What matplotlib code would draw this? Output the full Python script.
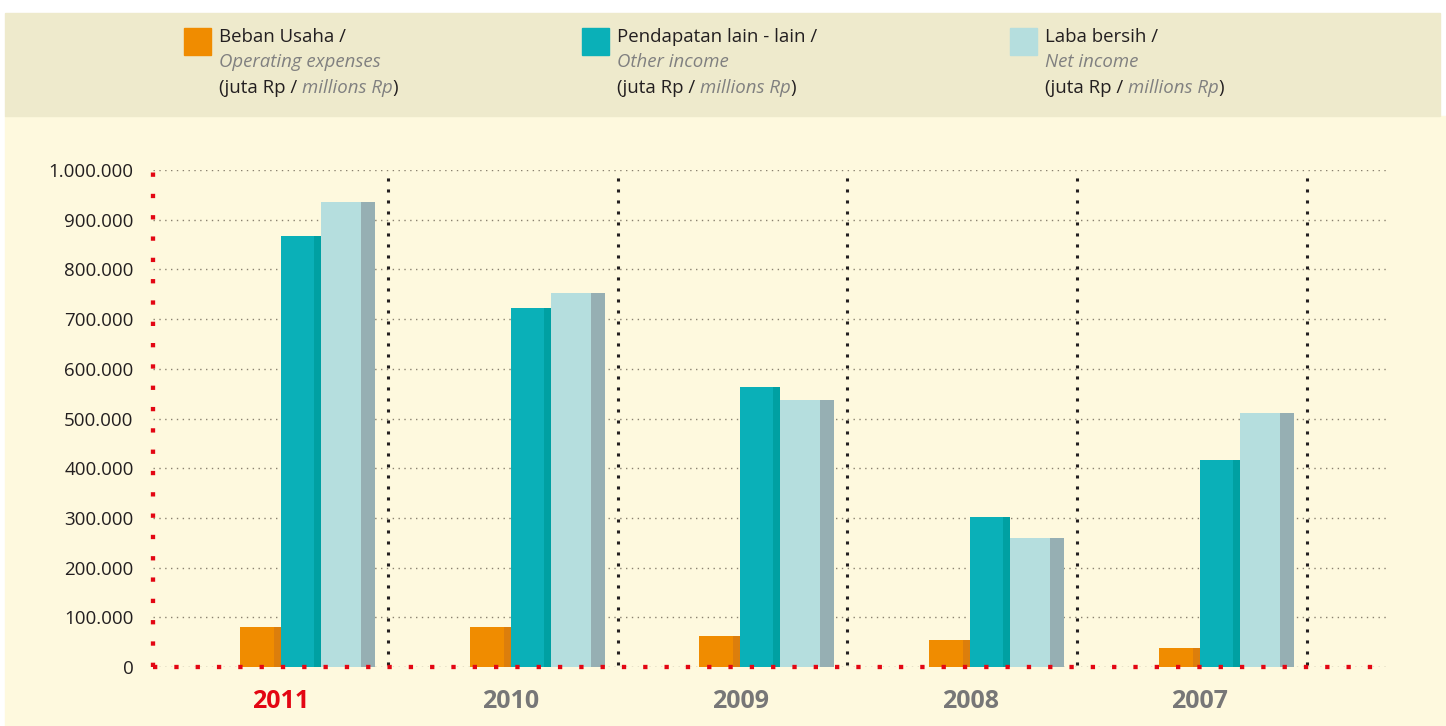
import matplotlib
matplotlib.use("Agg")
import matplotlib.pyplot as plt
from matplotlib.patches import Rectangle
import numpy as np

plt.rcParams['font.family'] = ['Open Sans', 'DejaVu Sans']

# ---- data ----
years = ["2011", "2010", "2009", "2008", "2007"]
operating_expenses = [80000, 80000, 62000, 54000, 38000]
other_income = [867000, 722000, 563000, 302000, 416000]
net_income = [936000, 752000, 537000, 260000, 511000]
y_ticks = [0, 100000, 200000, 300000, 400000, 500000, 600000, 700000, 800000, 900000, 1000000]
y_tick_labels = ["0", "100.000", "200.000", "300.000", "400.000", "500.000",
                 "600.000", "700.000", "800.000", "900.000", "1.000.000"]
legend_id = ["Beban Usaha /", "Pendapatan lain - lain /", "Laba bersih /"]
legend_en = ["Operating expenses", "Other income", "Net income"]

# ---- style ----
C_OR, C_OR_D = "#F08C00", "#DC7E0C"
C_TE, C_TE_D = "#0AB0B8", "#00A0A2"
C_LI, C_LI_D = "#B5DEDE", "#96AFB3"
C_BG, C_HEAD = "#FEF9DE", "#EEEACC"
C_TXT, C_GRAY, C_RED = "#231F20", "#808080", "#E30613"

W, H = 1446, 726
fig = plt.figure(figsize=(W / 100, H / 100), dpi=100)
fig.patch.set_facecolor("white")

def fx(px): return px / W
def fy(py): return 1 - py / H

fig.patches.append(Rectangle((fx(5), fy(726)), fx(1446) - fx(5), fy(116) - fy(726),
                             transform=fig.transFigure, color=C_BG, zorder=-2))
fig.patches.append(Rectangle((fx(5), fy(116)), fx(1440) - fx(5), fy(13) - fy(116),
                             transform=fig.transFigure, color=C_HEAD, zorder=-2))

# axes: x in group units (1 unit = 229.7 px)
left_px, right_px, zero_px, top_px = 153, 1390, 667, 170
ax = fig.add_axes([fx(left_px), fy(zero_px), fx(right_px) - fx(left_px), fy(top_px) - fy(zero_px)])
ax.set_facecolor("none")
u = 1 / 229.7
x0 = (left_px - 281) * u
ax.set_xlim(x0, x0 + (right_px - left_px) * u)
ax.set_ylim(0, 1000000)

x = np.arange(len(years))
w_or, w_te, w_li = 41 * u, 40 * u, 54 * u
s_or, s_te, s_li = 7 * u, 7 * u, 14 * u

ax.bar(x - w_or, operating_expenses, width=w_or, align="edge", color=C_OR, zorder=2)
ax.bar(x - s_or, operating_expenses, width=s_or, align="edge", color=C_OR_D, zorder=2)
ax.bar(x, other_income, width=w_te, align="edge", color=C_TE, zorder=2)
ax.bar(x + w_te - s_te, other_income, width=s_te, align="edge", color=C_TE_D, zorder=2)
ax.bar(x + w_te, net_income, width=w_li, align="edge", color=C_LI, zorder=2)
ax.bar(x + w_te + w_li - s_li, net_income, width=s_li, align="edge", color=C_LI_D, zorder=2)

# dividers
for xi in x:
    ax.axvline(xi + 107 * u, ymin=0.005, ymax=1.0, color=C_TXT, lw=2.2,
               ls=(0, (1, 2.6)), dash_capstyle="butt", zorder=3, clip_on=False)

# grid
ax.set_yticks(y_ticks)
ax.set_yticklabels(y_tick_labels)
ax.yaxis.grid(True, color="#8a8270", lw=1.0, ls=(0, (1, 3.2)))
ax.set_axisbelow(True)
ax.xaxis.grid(False)

# spines
for s in ["top", "right"]:
    ax.spines[s].set_visible(False)
for s in ["left", "bottom"]:
    sp = ax.spines[s]
    sp.set_color(C_RED)
    sp.set_linewidth(3.1)
    sp.set_linestyle((0, (1, 3.95)))
    sp.set_capstyle("butt")
    sp.set_zorder(5)
ax.spines["bottom"].set_bounds(x0, x0 + (1386 - left_px) * u)

ax.tick_params(axis="y", length=0, pad=14, labelsize=13.5, labelcolor=C_TXT)
ax.set_xticks(x)
ax.set_xticklabels(years, fontsize=18, fontweight="bold")
ax.tick_params(axis="x", length=0, pad=16)
for i, lbl in enumerate(ax.get_xticklabels()):
    lbl.set_color(C_RED if i == 0 else "#777777")

# legend
fig.canvas.draw()
renderer = fig.canvas.get_renderer()
legend_colors = [C_OR, C_TE, C_LI]
sq_x = [184, 582, 1010]
FS = 13.4
for i in range(3):
    fig.patches.append(Rectangle((fx(sq_x[i]), fy(55)), fx(27), 27 / H,
                                 transform=fig.transFigure, color=legend_colors[i]))
    tx = sq_x[i] + 35
    fig.text(fx(tx), fy(37), legend_id[i], fontsize=FS, color=C_TXT, va="center", ha="left")
    fig.text(fx(tx), fy(62), legend_en[i], fontsize=FS, color=C_GRAY, style="italic",
             va="center", ha="left")
    parts = [("(juta Rp / ", C_TXT, "normal"), ("millions Rp", C_GRAY, "italic"), (")", C_TXT, "normal")]
    cx = fx(tx)
    for txt, col, st in parts:
        t = fig.text(cx, fy(88), txt, fontsize=FS, color=col, style=st, va="center", ha="left")
        bb = t.get_window_extent(renderer=renderer)
        cx = cx + bb.width / W

fig.savefig("out.png", dpi=100)
